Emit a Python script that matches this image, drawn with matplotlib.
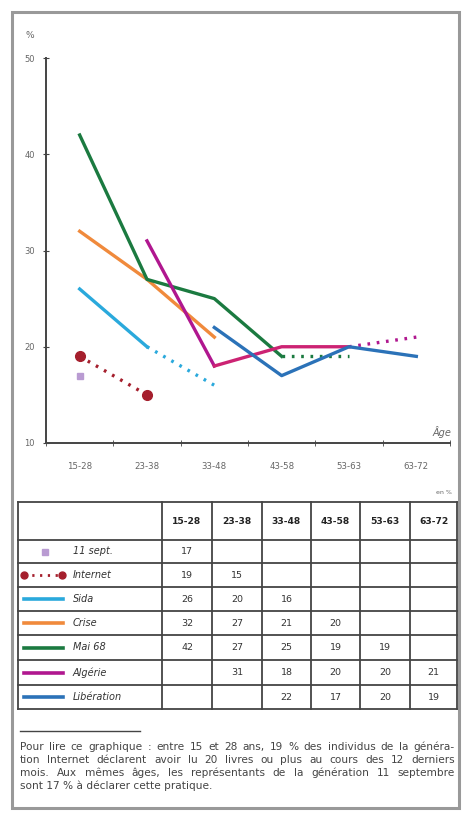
import matplotlib.pyplot as plt
from matplotlib.patches import Rectangle

# age groups and values (%) per generation, None = no value
ages = ["15-28", "23-38", "33-48", "43-58", "53-63", "63-72"]
names = ["11 sept.", "Internet", "Sida", "Crise", "Mai 68", "Algérie", "Libération"]
sept11 = [17, None, None, None, None, None]
internet = [19, 15, None, None, None, None]
sida = [26, 20, 16, None, None, None]
crise = [32, 27, 21, 20, None, None]
mai68 = [42, 27, 25, 19, 19, None]
algerie = [None, 31, 18, 20, 20, 21]
liberation = [None, None, 22, 17, 20, 19]

note = ["Pour lire ce graphique : entre 15 et 28 ans, 19 % des individus de la généra-",
        "tion Internet déclarent avoir lu 20 livres ou plus au cours des 12 derniers",
        "mois. Aux mêmes âges, les représentants de la génération 11 septembre",
        "sont 17 % à déclarer cette pratique."]

W, H = 462, 814
fig = plt.figure(figsize=(W / 100, H / 100), dpi=100)

# background axes in pixel coordinates (frame, table, note)
bg = fig.add_axes([0, 0, 1, 1])
bg.set_xlim(0, W)
bg.set_ylim(H, 0)
bg.axis("off")
bg.add_patch(Rectangle((12, 12), 447, 796, fill=False, ec="#999999", lw=2.2))

# main chart
ax = fig.add_axes([46 / W, 1 - 443 / H, 404 / W, 385 / H])
ax.patch.set_alpha(0)

def seg(vals, start, stop):
    xs = [i for i in range(start, stop) if vals[i] is not None]
    return xs, [vals[i] for i in xs]

dots = (0, (0.8, 2.0))
# sida: solid then dotted
c = "#2aa9dc"
x, y = seg(sida, 0, 2); ax.plot(x, y, color=c, lw=2.4)
x, y = seg(sida, 1, 3); ax.plot(x, y, color=c, lw=2.4, ls=dots)
# crise
c = "#f08a3c"
x, y = seg(crise, 0, 3); ax.plot(x, y, color=c, lw=2.4)
# mai 68
c = "#1b7a40"
x, y = seg(mai68, 0, 4); ax.plot(x, y, color=c, lw=2.4)
x, y = seg(mai68, 3, 5); ax.plot(x, y, color=c, lw=2.4, ls=dots)
# algerie
c = "#b0178f"
x, y = seg(algerie, 1, 3); ax.plot(x, y, color=c, lw=2.4)
x, y = seg(algerie, 2, 5); ax.plot(x, y, color="#cc2373", lw=2.4)
x, y = seg(algerie, 4, 6); ax.plot(x, y, color=c, lw=2.4, ls=dots)
# liberation
c = "#2b72b8"
x, y = seg(liberation, 2, 6); ax.plot(x, y, color=c, lw=2.4)
# internet
c = "#a51f2d"
x, y = seg(internet, 0, 2)
ax.plot(x, y, color=c, lw=2.4, ls=dots)
ax.plot([x[0], x[-1]], [y[0], y[-1]], "o", color=c, ms=7, ls="none")
# 11 sept
x, y = seg(sept11, 0, 1)
ax.plot(x, y, "s", color="#b99bd2", ms=5)

ax.set_xlim(-0.5, 5.5)
ax.set_ylim(10, 50)
for s in ["top", "right"]:
    ax.spines[s].set_visible(False)
for s in ["left", "bottom"]:
    ax.spines[s].set_color("#444444")
    ax.spines[s].set_linewidth(1.4)
ax.set_yticks([10, 20, 30, 40, 50])
ax.set_yticklabels(["10", "20", "30", "40", "50"], fontsize=6, color="#666666")
ax.set_xticks(range(len(ages)))
ax.set_xticklabels(ages, fontsize=6.2, color="#666666")
ax.set_xticks([i - 0.5 for i in range(len(ages) + 1)], minor=True)
ax.tick_params(axis="x", which="major", length=0, pad=14)
ax.tick_params(axis="x", which="minor", length=4, direction="inout", color="#444444")
ax.tick_params(axis="y", length=4, direction="inout", color="#444444", pad=6)
bg.text(30, 35, "%", fontsize=6.5, color="#666666", ha="center", va="center")
bg.text(442, 432, "Âge", fontsize=7, style="italic", color="#666666", ha="center", va="center")

# table
col_x = [18, 162, 212, 262, 311, 360, 410, 457]
row_y = [502, 540, 563, 587, 611, 635, 660, 685, 709]
for yy in row_y:
    bg.plot([col_x[0], col_x[-1]], [yy, yy], color="#444444", lw=1.3)
for xx in col_x:
    bg.plot([xx, xx], [row_y[0], row_y[-1]], color="#444444", lw=1.3)
bg.text(452, 493, "en %", fontsize=4.5, color="#666666", ha="right", va="center")
for j, a in enumerate(ages):
    bg.text((col_x[j + 1] + col_x[j + 2]) / 2, (row_y[0] + row_y[1]) / 2, a,
            fontsize=6.6, fontweight="bold", color="#222222", ha="center", va="center")

series = [sept11, internet, sida, crise, mai68, algerie, liberation]
swatch = [None, "#a51f2d", "#2aa9dc", "#f08a3c", "#1b7a40", "#b0178f", "#2b72b8"]
for i, (nm, vals) in enumerate(zip(names, series)):
    yc = (row_y[i + 1] + row_y[i + 2]) / 2
    bg.text(73, yc, nm, fontsize=7, style="italic", color="#333333", va="center")
    if i == 0:
        bg.plot([45], [yc], "s", color="#b99bd2", ms=4)
    elif i == 1:
        bg.plot([24, 62], [yc, yc], color=swatch[i], lw=2, ls=dots)
        bg.plot([24, 62], [yc, yc], "o", color=swatch[i], ms=5)
    else:
        bg.plot([24, 63], [yc, yc], color=swatch[i], lw=2.6)
    for j, v in enumerate(vals):
        if v is not None:
            bg.text((col_x[j + 1] + col_x[j + 2]) / 2, yc, str(v), fontsize=6.8,
                    color="#333333", ha="center", va="center")

# reading note, justified between x=20 and x=455 (last line left aligned)
bg.plot([20, 140], [731, 731], color="#444444", lw=1)
renderer = fig.canvas.get_renderer()
left, right = 20, 455
fs = 7.6
for k, line in enumerate(note):
    yl = 747 + k * 13
    if k == len(note) - 1:
        bg.text(left, yl, line, fontsize=fs, color="#444444", va="center")
        continue
    words = line.split(" ")
    texts = [bg.text(0, yl, w, fontsize=fs, color="#444444", va="center") for w in words]
    widths = [t.get_window_extent(renderer).width for t in texts]
    gap = (right - left - sum(widths)) / (len(words) - 1)
    xpos = left
    for t, wd in zip(texts, widths):
        t.set_x(xpos)
        xpos += wd + gap

fig.savefig("out.png", dpi=100)
